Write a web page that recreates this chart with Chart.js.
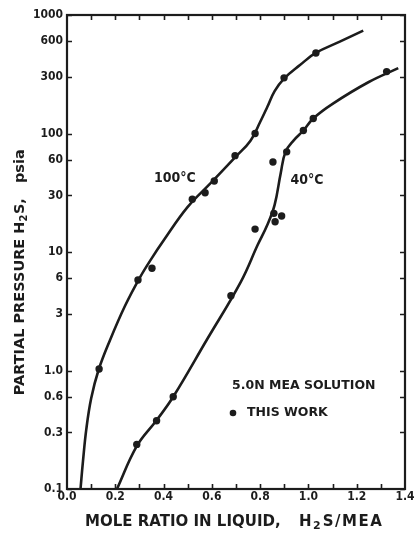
<!DOCTYPE html>
<html>
<head>
<meta charset="utf-8">
<script src="https://cdn.jsdelivr.net/npm/chart.js@4.4.1/dist/chart.umd.min.js"></script>
<style>
  html, body { margin: 0; padding: 0; background: #fff; }
  #h2sChart { display: block; }
</style>
</head>
<body>
<canvas id="h2sChart" width="416" height="535"></canvas>
<script>
// smoothed curves, mole ratio vs partial pressure (psia)
const curve100X = [0.056, 0.066, 0.08, 0.1, 0.13, 0.178, 0.24, 0.3, 0.35, 0.4, 0.5, 0.6, 0.7, 0.76, 0.8, 0.83, 0.86, 0.9, 0.965, 1.03, 1.13, 1.227];
const curve100P = [0.1, 0.17, 0.32, 0.58, 1.0, 1.8, 3.5, 6.0, 8.8, 12.5, 24, 39, 64, 87, 125, 168, 228, 292, 378, 478, 596, 738];

const curve40X = [0.207, 0.289, 0.371, 0.44, 0.578, 0.72, 0.79, 0.83, 0.86, 0.885, 0.905, 0.94, 0.979, 1.02, 1.1, 1.25, 1.372];
const curve40P = [0.1, 0.23, 0.38, 0.6, 1.8, 5.6, 11.5, 17, 25, 46, 70, 88, 106, 134, 178, 272, 356];

// measured points ("this work")
const pts100X = [0.133, 0.294, 0.352, 0.519, 0.572, 0.61, 0.696, 0.779, 0.899, 1.031];
const pts100P = [1.03, 5.8, 7.3, 27.9, 31.6, 39.7, 65, 100, 295, 478];

const pts40X = [0.289, 0.371, 0.44, 0.679, 0.779, 0.853, 0.857, 0.862, 0.889, 0.91, 0.979, 1.02, 1.324];
const pts40P = [0.238, 0.377, 0.60, 4.28, 15.6, 57.5, 21.2, 18.0, 20.1, 70, 106, 134, 333];

const yTickValues = [0.1, 0.3, 0.6, 1, 3, 6, 10, 30, 60, 100, 300, 600, 1000];
const yTickLabels = ['0.1', '0.3', '0.6', '1.0', '3', '6', '10', '30', '60', '100', '300', '600', '1000'];
const xTickValues = [0, 0.2, 0.4, 0.6, 0.8, 1.0, 1.2, 1.4];
const xTickLabels = ['0.0', '0.2', '0.4', '0.6', '0.8', '1.0', '1.2', '1.4'];
const xMinorTicks = [0.1, 0.2, 0.3, 0.4, 0.5, 0.6, 0.7, 0.8, 0.9, 1.0, 1.1, 1.2, 1.3];

const INK = '#1c1c1c';
const FONT = '"DejaVu Sans Condensed", "DejaVu Sans", sans-serif';
const WIDE = '"DejaVu Sans", sans-serif';

const toXY = (xs, ps) => xs.map((x, i) => ({ x, y: ps[i] }));

const lineStyle = {
    showLine: true,
    borderColor: INK,
    borderWidth: 2.6,
    pointRadius: 0,
    tension: 0.4
};
const dotStyle = {
    showLine: false,
    pointRadius: 3.7,
    pointBackgroundColor: INK,
    pointBorderWidth: 0
};

// "H2S" with a lowered, smaller 2; returns the x after the text
function drawH2S(ctx, x, y, size, tail) {
    ctx.font = `bold ${size}px ${WIDE}`;
    ctx.fillText('H', x, y);
    x += ctx.measureText('H').width;
    ctx.font = `bold ${Math.round(size * 0.72)}px ${WIDE}`;
    ctx.fillText('2', x, y + size * 0.3);
    x += ctx.measureText('2').width + 0.5;
    ctx.font = `bold ${size}px ${WIDE}`;
    ctx.fillText('S' + tail, x, y);
    return x + ctx.measureText('S' + tail).width;
}

// frame, inward ticks and all the lettering on the plot
const plotDecor = {
    id: 'plotDecor',
    afterDraw(chart) {
        const { ctx, chartArea: a, scales: { x, y } } = chart;
        ctx.save();
        ctx.strokeStyle = INK;
        ctx.fillStyle = INK;

        ctx.lineWidth = 2.2;
        ctx.strokeRect(a.left, a.top, a.right - a.left, a.bottom - a.top);

        ctx.lineWidth = 1.6;
        ctx.beginPath();
        yTickValues.forEach(v => {
            const py = Math.round(y.getPixelForValue(v)) + 0.5;
            ctx.moveTo(a.left, py); ctx.lineTo(a.left + 5, py);
            ctx.moveTo(a.right, py); ctx.lineTo(a.right - 5, py);
        });
        xMinorTicks.forEach(v => {
            const px = Math.round(x.getPixelForValue(v)) + 0.5;
            ctx.moveTo(px, a.bottom); ctx.lineTo(px, a.bottom - 5);
            ctx.moveTo(px, a.top); ctx.lineTo(px, a.top + 5);
        });
        ctx.stroke();

        // curve labels
        ctx.font = 'bold 14px ' + FONT;
        ctx.textAlign = 'center';
        ctx.textBaseline = 'middle';
        ctx.fillText('100°C', x.getPixelForValue(0.447), y.getPixelForValue(42));
        ctx.fillText('40°C', x.getPixelForValue(0.994), y.getPixelForValue(40.6));

        // key
        ctx.textAlign = 'left';
        ctx.font = 'bold 12.5px ' + WIDE;
        ctx.fillText('5.0N MEA SOLUTION', a.left + 165, 386);
        ctx.beginPath();
        ctx.arc(a.left + 166, 413, 3.3, 0, Math.PI * 2);
        ctx.fill();
        ctx.fillText('THIS WORK', a.left + 180, 413);

        // axis titles
        ctx.font = 'bold 15px ' + WIDE;
        ctx.fillText('MOLE RATIO IN LIQUID,', 85, 522);
        ctx.letterSpacing = '1.5px';
        drawH2S(ctx, 299, 522, 15, '/MEA');
        ctx.letterSpacing = '0px';

        // vertical title, laid out left to right then rotated
        ctx.translate(20, 271);
        ctx.rotate(-Math.PI / 2);
        ctx.font = 'bold 14.5px ' + WIDE;
        const head = 'PARTIAL PRESSURE ';
        const total = ctx.measureText(head + 'H2S,   psia').width;
        let cx = -total / 2;
        ctx.fillText(head, cx, 0);
        cx += ctx.measureText(head).width;
        cx = drawH2S(ctx, cx, 0, 14.5, ',');
        ctx.font = 'bold 14.5px ' + WIDE;
        ctx.fillText('   psia', cx, 0);
        ctx.restore();
    }
};

const ctx = document.getElementById('h2sChart').getContext('2d');

const chart = new Chart(ctx, {
    type: 'scatter',
    data: {
        datasets: [
            { label: '100°C curve', data: toXY(curve100X, curve100P), ...lineStyle },
            { label: '40°C curve', data: toXY(curve40X, curve40P), ...lineStyle },
            { label: '100°C data', data: toXY(pts100X, pts100P), ...dotStyle },
            { label: '40°C data', data: toXY(pts40X, pts40P), ...dotStyle }
        ]
    },
    options: {
        responsive: false,
        animation: false,
        layout: { padding: { top: 15, right: 11, left: 0, bottom: 0 } },
        scales: {
            x: {
                type: 'linear',
                min: 0,
                max: 1.4,
                afterBuildTicks: s => { s.ticks = xTickValues.map(v => ({ value: v })); },
                afterFit: s => { s.height = 46; },
                ticks: {
                    callback: (v, i) => xTickLabels[i],
                    color: INK,
                    padding: 1,
                    maxRotation: 0,
                    font: { family: FONT, size: 12, weight: 'bold' }
                },
                grid: { display: false, drawTicks: false },
                border: { display: false }
            },
            y: {
                type: 'logarithmic',
                min: 0.1,
                max: 1000,
                afterBuildTicks: s => { s.ticks = yTickValues.map(v => ({ value: v })); },
                afterFit: s => { s.width = 67; },
                ticks: {
                    callback: (v, i) => yTickLabels[i],
                    color: INK,
                    padding: 4,
                    font: { family: FONT, size: 12, weight: 'bold' }
                },
                grid: { display: false, drawTicks: false },
                border: { display: false }
            }
        },
        plugins: {
            legend: { display: false },
            tooltip: { enabled: false }
        }
    },
    plugins: [plotDecor]
});
</script>
</body>
</html>
